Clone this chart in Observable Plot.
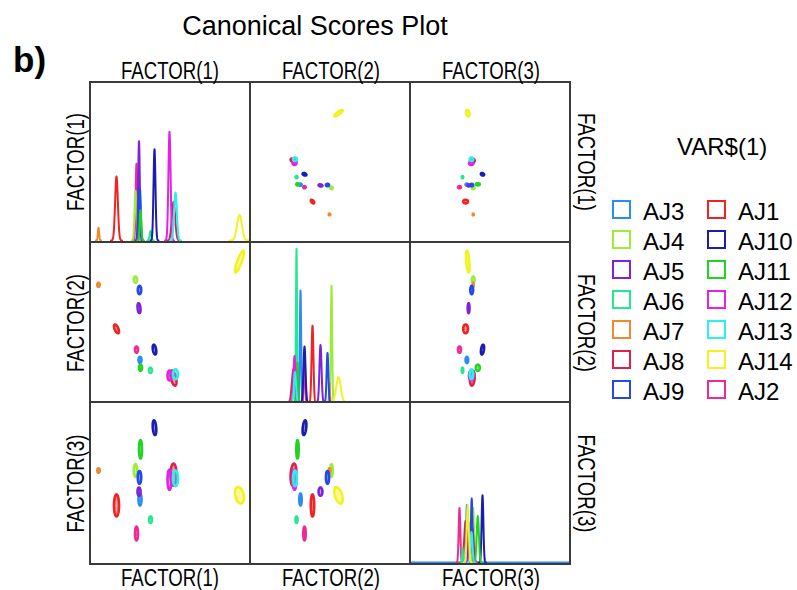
<!DOCTYPE html>
<html><head><meta charset="utf-8">
<script src="https://cdn.jsdelivr.net/npm/d3@7"></script>
<script src="https://cdn.jsdelivr.net/npm/@observablehq/plot@0.6"></script>
<style>
body{margin:0;background:#fff;}
#wrap{position:relative;width:797px;height:590px;overflow:hidden;font-family:"Liberation Sans",Arial,sans-serif;}
.panel{position:absolute;}
.gl{position:absolute;background:#3a3a3a;z-index:5;}
#txt{position:absolute;left:0;top:0;z-index:6;}
</style></head><body><div id="wrap"></div>
<script>
// ---- data ----
const groups = ["AJ1","AJ2","AJ3","AJ4","AJ5","AJ6","AJ7","AJ8","AJ9","AJ10","AJ11","AJ12","AJ13","AJ14"];
const colors = ["#f02222","#f02a90","#2a8cf5","#9cec3a","#7d22dd","#22e890","#f08a2a","#e0204c","#2448ee","#1c1cb0","#22d422","#e422e4","#2af0f0","#f2f222"];
// group means of the canonical scores
const factor1 = [-5.2,-3.2,-2.85,-3.3,-2.95,-1.8,-7.0,0.5,-2.9,-1.4,-2.8,0.1,0.7,7.1];
const factor2 = [-0.3,-1.1,-1.5,1.6,0.5,-1.9,1.4,-2.2,1.2,-1.1,-1.8,-2.1,-2.05,2.3];
const factor3 = [-0.49,-1.1,-0.36,0.27,-0.19,-0.8,0.27,0.18,0.12,1.2,0.73,0.07,0.1,-0.27];
// ellipse half-axes per factor
const spread1 = [0.25,0.15,0.15,0.17,0.15,0.15,0.12,0.3,0.17,0.18,0.15,0.2,0.25,0.45];
const spread2 = [0.17,0.12,0.12,0.12,0.19,0.1,0.08,0.29,0.16,0.19,0.12,0.19,0.19,0.42];
const spread3 = [0.24,0.15,0.13,0.14,0.09,0.07,0.05,0.24,0.14,0.16,0.2,0.22,0.17,0.18];
// within-group correlations
const corr12 = [-0.6,0,0,0,-0.3,0,0,-0.5,0,-0.4,0,0,0,0.85];
const corr13 = [0,0,0,0,0,0,0,0,0,-0.3,0,0,0,-0.3];
const corr23 = [0,0,0,0,0,0,0,0.2,0,0.4,0,0,0,-0.5];
// density peak heights on the diagonal (relative, 0-100)
const peak1 = [40,48,32,31,62,6,8,24,33,57,19,68,30,16];
const peak2 = [48,32,70,73,36,96,12,21,31,35,25,29,19,16];
const peak3 = [26,34,36,34,25,9,12,22,40,42,29,19,19,36];
const legendOrder = ["AJ3","AJ4","AJ5","AJ6","AJ7","AJ8","AJ9","AJ1","AJ10","AJ11","AJ12","AJ13","AJ14","AJ2"];
const factorLabels = ["FACTOR(1)","FACTOR(2)","FACTOR(3)"];
const chartTitle = "Canonical Scores Plot";
const panelTag = "b)";
const legendTitle = "VAR$(1)";

// ---- scale settings ----
const colDomains = [[-8,8.1],[-6.5,9.6],[-6,10.1]];
const rowDomains = [[-10.76,11.66],[-3.181,3.035],[-1.752,1.748]];
const colLeft = [88,250,410], rowTop = [80,242,402], cell = 161;

const means = [factor1,factor2,factor3];
const spreads = [spread1,spread2,spread3];
const peaks = [peak1,peak2,peak3];
function corrOf(g,a,b){const k=Math.min(a,b)*10+Math.max(a,b);return k===1?corr12[g]:k===2?corr13[g]:corr23[g];}

function ellipses(fx,fy){
  const out=[];
  groups.forEach((name,g)=>{
    const mx=means[fx][g],my=means[fy][g],sx=spreads[fx][g],sy=spreads[fy][g],r=corrOf(g,fx,fy);
    const q=Math.sqrt(1-r*r);
    for(let k=0;k<48;k++){const t=2*Math.PI*k/48;
      out.push({group:name,x:mx+sx*Math.cos(t),y:my+sy*(r*Math.cos(t)+q*Math.sin(t))});}
  });
  return out;
}
function densities(f){
  const out=[];
  groups.forEach((name,g)=>{
    const m=means[f][g],s=spreads[f][g]*0.55,h=peaks[f][g];
    for(let k=0;k<=40;k++){const x=m-4*s+8*s*k/40;
      out.push({group:name,x,y:h*Math.exp(-0.5*((x-m)/s)**2)});}
  });
  return out;
}

const wrap=document.getElementById("wrap");
const colorScale={domain:groups,range:colors};
for(let row=0;row<3;row++){
  for(let col=0;col<3;col++){
    let p;
    if(row===col){
      const marks=[Plot.line(densities(col),{x:"x",y:"y",z:"group",stroke:"group",strokeWidth:2})];
      if(row===2) marks.unshift(Plot.ruleY([0],{stroke:colors[2],strokeWidth:2}));
      p=Plot.plot({width:cell,height:cell,margin:0,x:{domain:colDomains[col],axis:null},
        y:{domain:[0,100],range:[160,0],axis:null},color:colorScale,marks});
    } else {
      p=Plot.plot({width:cell,height:cell,margin:0,x:{domain:colDomains[col],axis:null},
        y:{domain:rowDomains[row],axis:null},color:colorScale,
        marks:[Plot.line(ellipses(col,row),{x:"x",y:"y",z:"group",stroke:"group",fill:"group",fillOpacity:0.45,strokeWidth:2.6,curve:"linear-closed"})]});
    }
    p.classList.add("panel");
    p.style.left=colLeft[col]+"px";p.style.top=rowTop[row]+"px";
    wrap.appendChild(p);
  }
}
// grid lines
[89,249,409,569].forEach(x=>{const d=document.createElement("div");d.className="gl";
  Object.assign(d.style,{left:x+"px",top:"81px",width:"2px",height:"484px"});wrap.appendChild(d);});
[81,241,401,563].forEach(y=>{const d=document.createElement("div");d.className="gl";
  Object.assign(d.style,{left:"89px",top:y+"px",width:"482px",height:"2px"});wrap.appendChild(d);});

// texts and legend
const NS="http://www.w3.org/2000/svg";
const svg=document.createElementNS(NS,"svg");svg.setAttribute("id","txt");
svg.setAttribute("width",797);svg.setAttribute("height",590);
function txt(s,x,y,opts={}){const t=document.createElementNS(NS,"text");t.textContent=s;
  t.setAttribute("x",x);t.setAttribute("y",y);t.setAttribute("font-family",'"Liberation Sans",Arial,sans-serif');
  for(const k in opts)t.setAttribute(k,opts[k]);svg.appendChild(t);return t;}
txt(chartTitle,315,35,{"font-size":27,"text-anchor":"middle"});
txt(panelTag,13,72,{"font-size":35,"font-weight":"bold"});
const colCenters=[170,331,491],rowCenters=[162,323,483.5];
factorLabels.forEach((s,i)=>{
  const o={"font-size":23,"text-anchor":"middle",textLength:98,lengthAdjust:"spacingAndGlyphs"};
  txt(s,colCenters[i],79,o);
  txt(s,colCenters[i],586,o);
  txt(s,0,0,Object.assign({transform:`translate(84,${rowCenters[i]}) rotate(-90)`},o));
  txt(s,0,0,Object.assign({transform:`translate(578,${rowCenters[i]}) rotate(90)`},o));
});
txt(legendTitle,677,155,{"font-size":24});
legendOrder.forEach((name,i)=>{
  const c=Math.floor(i/7),r=i%7;const g=groups.indexOf(name);
  const bx=613+c*95,by=201+r*30;
  const rect=document.createElementNS(NS,"rect");
  rect.setAttribute("x",bx);rect.setAttribute("y",by);rect.setAttribute("width",17);rect.setAttribute("height",17);
  rect.setAttribute("fill","none");rect.setAttribute("stroke",colors[g]);rect.setAttribute("stroke-width",2);
  svg.appendChild(rect);
  txt(name,643+c*95,220+r*30,{"font-size":24});
});
wrap.appendChild(svg);
</script></body></html>
